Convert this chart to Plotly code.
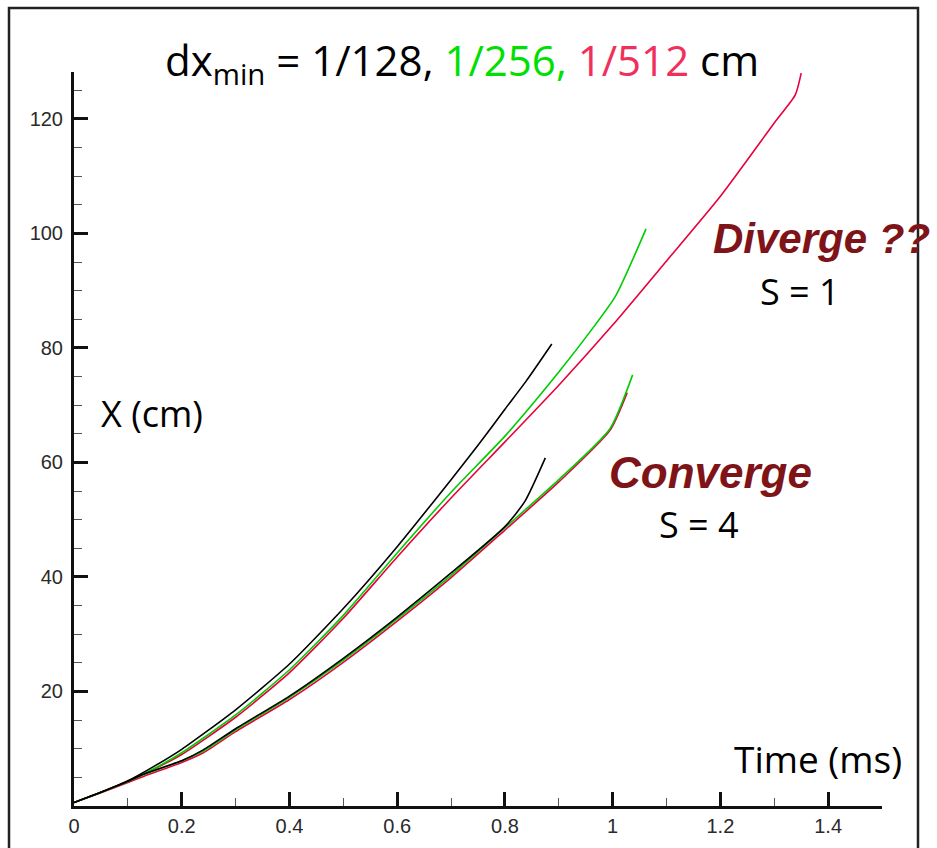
import plotly.graph_objects as go

# ---------------- data ----------------
# S = 1 group
t_s1_128 = [0, 0.05, 0.1, 0.15, 0.2, 0.3, 0.4, 0.5, 0.6, 0.7, 0.75, 0.8, 0.84, 0.887]
x_s1_128 = [0.6, 2.4, 4.4, 7.0, 9.9, 16.8, 24.8, 34.5, 45.3, 57.0, 63.0, 69.3, 74.3, 80.7]

t_s1_256 = [0, 0.05, 0.1, 0.15, 0.2, 0.3, 0.4, 0.5, 0.6, 0.7, 0.8, 0.9, 0.961, 1.005, 1.062]
x_s1_256 = [0.6, 2.4, 4.3, 6.6, 9.3, 15.9, 23.8, 33.3, 44.2, 54.8, 64.6, 75.8, 83.2, 89.0, 100.8]

t_s1_512 = [0, 0.05, 0.1, 0.15, 0.2, 0.3, 0.4, 0.5, 0.6, 0.7, 0.8, 0.9, 1.0, 1.1, 1.2, 1.3, 1.339, 1.35]
x_s1_512 = [0.6, 2.4, 4.3, 6.5, 9.0, 15.5, 23.3, 32.8, 43.5, 53.8, 63.6, 73.5, 84.0, 95.2, 106.5, 119.3, 124.2, 128.0]

# S = 4 group
t_s4_128 = [0, 0.05, 0.1, 0.13, 0.2, 0.24, 0.3, 0.4, 0.5, 0.6, 0.7, 0.8, 0.837, 0.875]
x_s4_128 = [0.6, 2.4, 4.3, 5.6, 7.9, 9.8, 13.5, 19.2, 25.8, 33.0, 40.7, 48.8, 53.2, 60.8]

t_s4_256 = [0, 0.05, 0.1, 0.13, 0.2, 0.24, 0.3, 0.4, 0.5, 0.6, 0.7, 0.8, 0.9, 0.995, 1.037]
x_s4_256 = [0.6, 2.4, 4.3, 5.5, 7.9, 9.6, 13.3, 19.0, 25.5, 32.7, 40.3, 48.6, 57.0, 65.9, 75.3]

t_s4_512 = [0, 0.05, 0.1, 0.13, 0.2, 0.24, 0.3, 0.4, 0.5, 0.6, 0.7, 0.8, 0.9, 0.995, 1.027]
x_s4_512 = [0.6, 2.3, 4.1, 5.2, 7.6, 9.3, 13.0, 18.6, 25.1, 32.3, 39.9, 48.2, 56.6, 65.6, 72.2]

x_tickvals = [0, 0.2, 0.4, 0.6, 0.8, 1.0, 1.2, 1.4]
x_ticktext = ["0", "0.2", "0.4", "0.6", "0.8", "1", "1.2", "1.4"]
y_tickvals = [20, 40, 60, 80, 100, 120]
y_ticktext = ["20", "40", "60", "80", "100", "120"]

# ---------------- layout helpers ----------------
W, H = 937, 848
ML, MR, MT, MB = 74, 55, 72, 42
PW, PH = W - ML - MR, H - MT - MB


def px(xp):
    return (xp - ML) / PW


def py(yp):
    return (H - MB - yp) / PH


BLACK = "#000000"
GREEN = "#00cc00"
RED = "#e8003d"

fig = go.Figure()
series = [
    (t_s1_512, x_s1_512, RED),
    (t_s4_512, x_s4_512, RED),
    (t_s1_256, x_s1_256, GREEN),
    (t_s4_256, x_s4_256, GREEN),
    (t_s1_128, x_s1_128, BLACK),
    (t_s4_128, x_s4_128, BLACK),
]
for t, x, c in series:
    fig.add_trace(go.Scatter(x=t, y=x, mode="lines",
                             line=dict(color=c, width=1.6, shape="spline", smoothing=0.6),
                             showlegend=False, hoverinfo="skip"))

tickfont = dict(family="Liberation Sans, Arial, sans-serif", size=20, color="#2a2a2a")

fig.update_xaxes(range=[0, 1.5], showline=True, linecolor="#111111", linewidth=3,
                 ticks="inside", ticklen=14, tickwidth=2.5, tickcolor="#111111",
                 tickmode="array", tickvals=x_tickvals, ticktext=x_ticktext,
                 tickfont=tickfont, showgrid=False, zeroline=False,
                 minor=dict(ticks="inside", ticklen=8, tickwidth=1, tickcolor="#555555",
                            tickmode="array",
                            tickvals=[0.1, 0.3, 0.5, 0.7, 0.9, 1.1, 1.3, 1.5]))
fig.update_yaxes(range=[0, 128.2], showline=True, linecolor="#111111", linewidth=3,
                 ticks="inside", ticklen=14, tickwidth=2.5, tickcolor="#111111",
                 tickmode="array", tickvals=y_tickvals, ticktext=y_ticktext,
                 tickfont=tickfont, showgrid=False, zeroline=False,
                 ticklabelstandoff=4,
                 minor=dict(ticks="inside", ticklen=8, tickwidth=1, tickcolor="#555555",
                            tickmode="array",
                            tickvals=[5, 10, 15, 25, 30, 35, 45, 50, 55, 65, 70, 75,
                                      85, 90, 95, 105, 110, 115, 125]))

TXT = "Open Sans, Noto Sans, sans-serif"
BI = dict(family="Liberation Sans, Arial, sans-serif", size=44, color="#7f1418",
          weight="bold", style="italic")
BI_D = dict(BI, size=42)
annots = [
    dict(text="dx<sub>min</sub> = 1/128, <span style='color:#00e000'>1/256,</span> "
              "<span style='color:#f0305a'>1/512</span> cm",
         x=px(163), y=py(63), xanchor="left", yanchor="middle",
         font=dict(family=TXT, size=42, color="#000000")),
    dict(text="Diverge ??", x=px(711), y=py(238), xanchor="left", yanchor="middle", font=BI_D),
    dict(text="S = 1", x=px(800), y=py(291), xanchor="center", yanchor="middle",
         font=dict(family=TXT, size=36, color="#000000")),
    dict(text="Converge", x=px(607), y=py(472), xanchor="left", yanchor="middle", font=BI),
    dict(text="S = 4", x=px(699), y=py(524), xanchor="center", yanchor="middle",
         font=dict(family=TXT, size=36, color="#000000")),
    dict(text="X (cm)", x=px(152), y=py(413), xanchor="center", yanchor="middle",
         font=dict(family=TXT, size=36, color="#000000")),
    dict(text="Time (ms)", x=px(818), y=py(758), xanchor="center", yanchor="middle",
         font=dict(family=TXT, size=37, color="#000000")),
]
for a in annots:
    fig.add_annotation(xref="paper", yref="paper", showarrow=False, **a)

# outer frame
fig.add_shape(type="rect", xref="paper", yref="paper",
              x0=px(9), x1=px(918), y0=py(870), y1=py(8),
              line=dict(color="#222222", width=2.5), layer="above")

fig.update_layout(width=W, height=H, margin=dict(l=ML, r=MR, t=MT, b=MB),
                  paper_bgcolor="white", plot_bgcolor="white",
                  font=dict(family=TXT))

fig.write_html("out.html")
